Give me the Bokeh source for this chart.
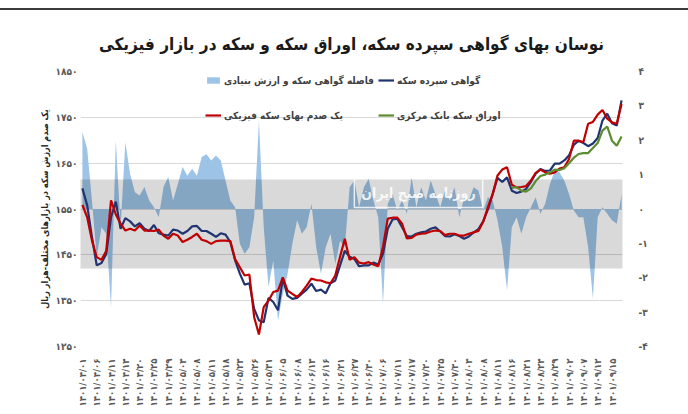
import math
from bokeh.plotting import figure
from bokeh.models import (Range1d, LinearAxis, FixedTicker, Legend, LegendItem,
                          BoxAnnotation, Label)
from bokeh.embed import file_html
from bokeh.resources import INLINE

FONT = "DejaVu Sans Condensed, DejaVu Sans"

title_text = "نوسان بهای گواهی سپرده سکه، اوراق سکه و سکه در بازار فیزیکی"
left_label = "یک صدم ارزش سکه در بازارهای مختلف-هزار ریال"
right_label = "فاصله ارزش گواهی سکه وارزش بنیادی آن-درصد"
name_gap = "فاصله گواهی سکه و ارزش بنیادی"
name_cert = "گواهی سپرده سکه"
name_phys = "یک صدم بهای سکه فیزیکی"
name_cb = "اوراق سکه بانک مرکزی"
watermark = "روزنامه صبح ایران"

dates = ["۱۴۰۱/۰۴/۰۱", "۱۴۰۱/۰۴/۰۶", "۱۴۰۱/۰۴/۱۱", "۱۴۰۱/۰۴/۱۴", "۱۴۰۱/۰۴/۲۰",
         "۱۴۰۱/۰۴/۲۵", "۱۴۰۱/۰۴/۲۹", "۱۴۰۱/۰۵/۰۳", "۱۴۰۱/۰۵/۰۸", "۱۴۰۱/۰۵/۱۱",
         "۱۴۰۱/۰۵/۱۸", "۱۴۰۱/۰۵/۲۳", "۱۴۰۱/۰۵/۲۶", "۱۴۰۱/۰۵/۳۱", "۱۴۰۱/۰۶/۰۵",
         "۱۴۰۱/۰۶/۰۸", "۱۴۰۱/۰۶/۱۳", "۱۴۰۱/۰۶/۱۶", "۱۴۰۱/۰۶/۲۱", "۱۴۰۱/۰۶/۲۷",
         "۱۴۰۱/۰۶/۳۰", "۱۴۰۱/۰۷/۰۶", "۱۴۰۱/۰۷/۱۱", "۱۴۰۱/۰۷/۱۷", "۱۴۰۱/۰۷/۲۰",
         "۱۴۰۱/۰۷/۲۵", "۱۴۰۱/۰۷/۳۰", "۱۴۰۱/۰۸/۰۳", "۱۴۰۱/۰۸/۰۸", "۱۴۰۱/۰۸/۱۱",
         "۱۴۰۱/۰۸/۱۶", "۱۴۰۱/۰۸/۲۱", "۱۴۰۱/۰۸/۲۴", "۱۴۰۱/۰۸/۲۹", "۱۴۰۱/۰۹/۰۲",
         "۱۴۰۱/۰۹/۰۷", "۱۴۰۱/۰۹/۱۲", "۱۴۰۱/۰۹/۱۵"]

cert = [1595, 1558, 1489, 1427, 1432, 1452, 1532, 1566, 1507, 1530,
        1523, 1512, 1519, 1507, 1502, 1515, 1497, 1494, 1492, 1505,
        1503, 1496, 1502, 1512, 1513, 1502, 1502, 1496, 1489, 1497,
        1494, 1478, 1438, 1409, 1385, 1388, 1332, 1307, 1303, 1356,
        1347, 1329, 1398, 1361, 1354, 1356, 1365, 1374, 1387, 1371,
        1374, 1366, 1388, 1394, 1427, 1459, 1446,
        1441, 1425, 1427, 1427, 1433, 1429, 1452, 1507, 1527, 1529,
        1510, 1491, 1490, 1496, 1499, 1501, 1507, 1510, 1501, 1491,
        1490, 1495, 1491, 1485, 1490, 1499, 1506, 1523, 1549, 1583,
        1618, 1609, 1619, 1590, 1585, 1588, 1594, 1609, 1627, 1637,
        1633, 1634, 1649, 1649, 1656, 1667, 1690, 1699, 1694, 1687,
        1693, 1705, 1743, 1758, 1737, 1732, 1787]

phys = [1559, 1532, 1481, 1445, 1439, 1459, 1569, 1538, 1518, 1503,
        1507, 1503, 1514, 1503, 1503, 1502, 1505, 1492, 1485, 1496,
        1492, 1478, 1483, 1489, 1496, 1483, 1480, 1474, 1480, 1481,
        1481, 1480, 1441, 1423, 1405, 1407, 1314, 1276, 1336, 1350,
        1369, 1372, 1401, 1372, 1365, 1358, 1369, 1383, 1398, 1395,
        1394, 1390, 1388, 1405, 1446, 1485, 1439,
        1445, 1433, 1431, 1434, 1429, 1425, 1467, 1529, 1531, 1531,
        1518, 1486, 1487, 1494, 1496, 1497, 1501, 1503, 1502, 1493,
        1496, 1496, 1492, 1492, 1496, 1499, 1502, 1522, 1554, 1583,
        1623, 1636, 1641, 1603, 1597, 1598, 1600, 1612, 1629, 1636,
        1630, 1627, 1630, 1638, 1641, 1659, 1699, 1699, 1696, 1736,
        1740, 1756, 1766, 1747, 1739, 1736, 1779]

cb_start = 90
cb_values = [1596, 1598, 1590, 1588, 1595, 1611, 1622, 1625, 1630, 1636,
             1635, 1639, 1650, 1662, 1670, 1672, 1672, 1683, 1694, 1721,
             1730, 1699, 1688, 1708]

gap = [2.24, 1.75, 0.25, -1.40, -0.53, -0.72, -2.86, 1.99, -0.53, 1.94,
       1.02, 0.49, 0.39, 0.64, 0.25, 0.05, -0.24, 0.64, 0.93, 0.25,
       0.73, 1.22, 0.97, 1.17, 0.97, 1.51, 1.59, 1.41, 1.56, 1.41,
       0.83, 0.25, 0.05, -1.01, -1.30, -1.11, -0.24, 2.57, -0.53, -2.27,
       -1.50, -3.24, -2.47, -1.89, -1.01, -0.33, -0.72, -0.53, 0.15, -1.11,
       -1.89, -1.11, -0.72, -1.60, -0.92, -1.11, 0.63,
       0.83, 0.05, 0.63, 0.88, 0.25, -0.24, -2.76, 0.15, 0.44, -0.04,
       0.25, -0.14, 0.93, 0.05, 0.63, 0.25, 0.83, 0.44, 0.05, 0.54,
       0.25, 0.63, -0.24, 0.34, 0.25, 0.63, 0.54, -0.04, 0.34, 0.25,
       -0.33, -1.11, -2.37, -0.53, -0.24, -0.72, -0.24, 0.05, 0.34, -0.14,
       0.15, 0.73, 1.12, 1.07, 0.83, 0.44, -0.04, -0.24, -0.24, -1.11,
       -2.61, -0.24, 0.05, -0.14, -0.33, -0.43, 0.44]

left_ticks = [1250, 1350, 1450, 1550, 1650, 1750, 1850]
left_tick_labels = ["۱۲۵۰", "۱۳۵۰", "۱۴۵۰", "۱۵۵۰", "۱۶۵۰", "۱۷۵۰", "۱۸۵۰"]
right_ticks = [-4, -3, -2, -1, 0, 1, 2, 3, 4]
right_tick_labels = ["-۴", "-۳", "-۲", "-۱", "۰", "۱", "۲", "۳", "۴"]
label_step = 3

n = len(cert)
x = list(range(n))
cbank = [float("nan")] * cb_start + cb_values
tick_pos = [i * label_step for i in range(len(dates))]

p = figure(width=688, height=404, x_range=Range1d(-0.4, n - 0.8),
           y_range=Range1d(left_ticks[0], left_ticks[-1]),
           output_backend="svg", toolbar_location=None,
           min_border_left=80, min_border_right=66, min_border_top=61, min_border_bottom=68)
p.styles = {"margin-top": "8px", "border-top": "2px solid #3c3c3c"}
p.outline_line_color = None
p.background_fill_color = "white"
p.border_fill_color = "white"
p.extra_y_ranges = {"gap": Range1d(right_ticks[0], right_ticks[-1])}

p.title.text = title_text
p.title.align = "center"
p.title.text_font = FONT
p.title.text_font_size = "17px"
p.title.text_font_style = "bold"
p.title.text_color = "#1a1a1a"
p.title.standoff = 36

# gap area (right axis)
r_gap = p.varea(x=x, y1=0, y2=gap, y_range_name="gap", fill_color="#9DC3E6")

# grey watermark band (extends a little beyond the plot area)
band = BoxAnnotation(bottom=-1.73, top=0.86, y_range_name="gap",
                     left=-46, right=588, left_units="screen", right_units="screen",
                     fill_color="black", fill_alpha=0.15, line_color=None, level="glyph")
p.add_layout(band)

r_cert = p.line(x, cert, line_color="#1F3470", line_width=2.2, level="annotation")
r_phys = p.line(x, phys, line_color="#C00000", line_width=2.2, level="annotation")
r_cb = p.line(x, cbank, line_color="#5B8C2E", line_width=2.2, level="annotation")

# axes
ax = p.xaxis[0]
ax.ticker = FixedTicker(ticks=tick_pos)
ax.major_label_overrides = {t: d for t, d in zip(tick_pos, dates)}
ax.major_label_orientation = math.pi / 2
ax.major_label_text_font = FONT
ax.major_label_text_font_size = "9.5px"
ax.major_label_text_font_style = "bold"
ax.major_label_text_color = "#595959"
ax.major_label_standoff = 6
ax.axis_line_color = None
ax.major_tick_line_color = None
ax.minor_tick_line_color = None

ay = p.yaxis[0]
ay.ticker = FixedTicker(ticks=left_ticks)
ay.major_label_overrides = {t: s for t, s in zip(left_ticks, left_tick_labels)}
ay.axis_label = left_label
ay.axis_label_text_font = FONT
ay.axis_label_text_font_size = "9px"
ay.axis_label_text_font_style = "bold"
ay.axis_label_text_color = "#262626"
ay.axis_label_standoff = 3
ay.major_label_text_font = FONT
ay.major_label_text_font_size = "10px"
ay.major_label_text_font_style = "bold"
ay.major_label_text_color = "#595959"
ay.major_label_standoff = -3
ay.axis_line_color = None
ay.major_tick_line_color = None
ay.minor_tick_line_color = None

ra = LinearAxis(y_range_name="gap", ticker=FixedTicker(ticks=right_ticks),
                major_label_overrides={t: s for t, s in zip(right_ticks, right_tick_labels)})
ra.major_label_text_font = FONT
ra.major_label_text_font_size = "10px"
ra.major_label_text_font_style = "bold"
ra.major_label_text_color = "#595959"
ra.major_label_standoff = 10
ra.axis_line_color = None
ra.major_tick_line_color = None
ra.minor_tick_line_color = None
p.add_layout(ra, "right")

# right axis title, reading bottom-to-top like the reference
rlab = Label(x=588, y=166, x_units="screen", y_units="screen", text=right_label,
             angle=math.pi / 2, text_align="center", text_baseline="middle",
             text_font=FONT, text_font_size="8.5px", text_font_style="bold",
             text_color="#262626")
p.add_layout(rlab)

p.xgrid.grid_line_color = None
p.ygrid.grid_line_color = "#D9D9D9"
p.ygrid.ticker = FixedTicker(ticks=left_ticks)

def add_leg(items, loc):
    leg = Legend(items=[LegendItem(label=l, renderers=[r]) for l, r in items],
                 location=loc, orientation="horizontal", spacing=4,
                 padding=0, margin=0, border_line_color=None, background_fill_alpha=0,
                 glyph_width=16, glyph_height=8, label_height=14, label_width=150,
                 label_standoff=3,
                 label_text_font=FONT, label_text_font_size="10px",
                 label_text_font_style="bold", label_text_color="#404040")
    p.add_layout(leg)

add_leg([(name_gap, r_gap), (name_cert, r_cert)], (125, 259))
add_leg([(name_phys, r_phys), (name_cb, r_cb)], (125, 224))

wm = Label(x=338, y=154, x_units="screen", y_units="screen", text=watermark,
           text_align="center", text_baseline="middle", text_color="white",
           text_alpha=0.85, text_font=FONT, text_font_size="14px", text_font_style="bold",
           border_line_color="white", border_line_alpha=0.8, border_line_width=1.5,
           padding=7)
p.add_layout(wm)

open("out.html", "w").write(file_html(p, INLINE))
